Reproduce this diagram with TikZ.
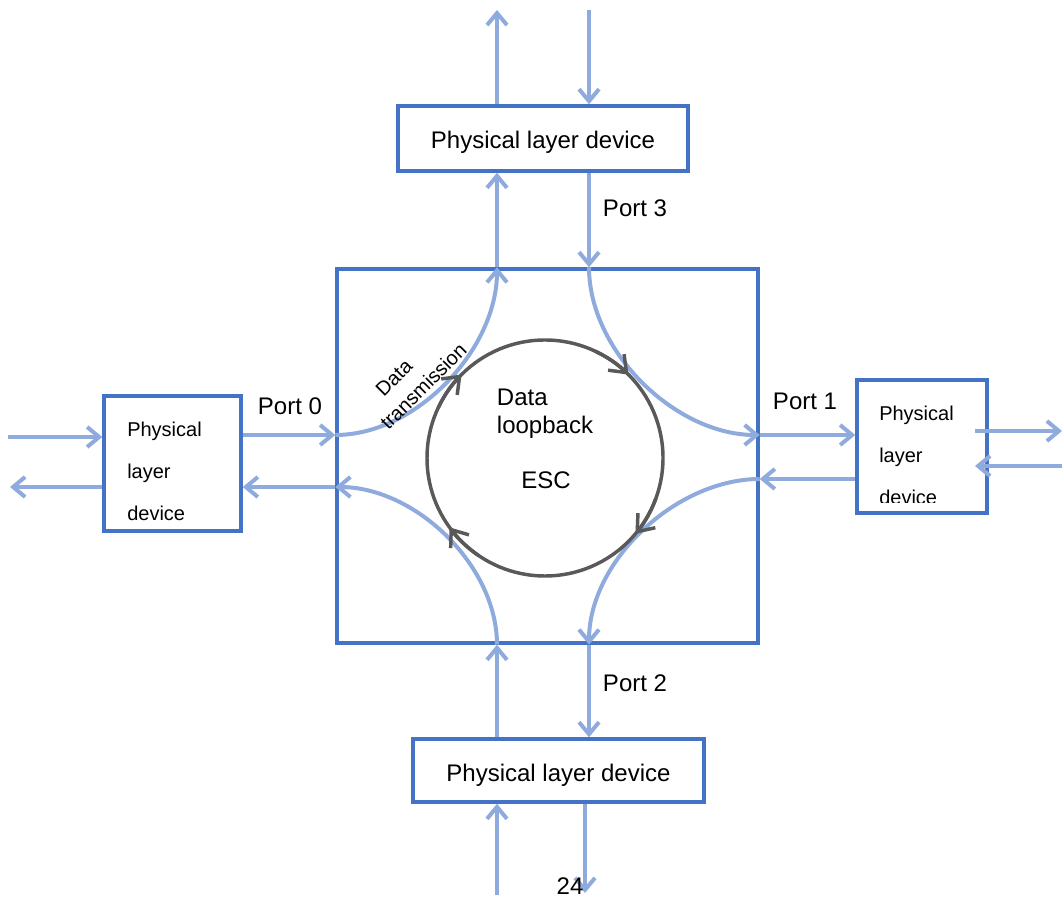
\documentclass[tikz,border=0pt]{standalone}
\usepackage{fontspec}
\setmainfont{Liberation Sans}
\usetikzlibrary{arrows.meta}
\definecolor{boxblue}{HTML}{4472C4}
\definecolor{lblue}{HTML}{8FAADC}
\definecolor{dgray}{HTML}{595959}
\begin{document}
\begin{tikzpicture}[x=0.75pt,y=0.75pt,
  dev/.style={draw=boxblue, line width=2.6pt, inner sep=0pt},
  flow/.style={draw=lblue, line width=3pt, -{Straight Barb[length=9pt,width=15pt]}},
  circarr/.style={draw=dgray, line width=2.6pt, -{Straight Barb[length=11pt,width=17pt]}},
  lbl/.style={font=\fontsize{18}{21}\selectfont, inner sep=0pt},
  small/.style={font=\fontsize{15}{31.5}\selectfont, align=left, inner sep=0pt}]
\useasboundingbox (0,0) rectangle (1062,899);

% coordinates
\coordinate (xA) at (497,0);
\coordinate (xB) at (589,0);
\coordinate (xC) at (585,0);
\coordinate (rx) at (975,0);
\coordinate (yA) at (0,464);
\coordinate (yB) at (0,412);
\coordinate (yC) at (0,420);
\coordinate (yD) at (0,468);
\coordinate (yE) at (0,433);
\coordinate (yF) at (0,462);
\coordinate (topA) at (497,889);
\coordinate (topB) at (589,889);
\coordinate (botA) at (497,4);
\coordinate (botC) at (585,6);
\coordinate (leftIn) at (8,462);
\coordinate (leftOut) at (10,412);
\coordinate (rightOut) at (1062,468);
\coordinate (rightIn) at (1062,433);

% boxes
\node[dev, minimum width=315.75pt, minimum height=280.5pt] (box) at (547.5,443) {};
\node[dev, minimum width=217.5pt, minimum height=48.75pt] (dtop) at (543,760.5) {};
\node[dev, minimum width=218.25pt, minimum height=47.25pt] (dbot) at (558.5,128.5) {};
\node[lbl] (ttop) at (543,756.5) {Physical layer device};
\node[lbl] (tbot) at (558.5,123.5) {Physical layer device};
\node[dev, minimum width=102.75pt, minimum height=101.25pt] (dleft) at (172.5,435.5) {};
\node[dev, minimum width=97.5pt, minimum height=99.75pt] (dright) at (922,452.5) {};
\node[small, anchor=west] (tleft) at (127,428) {Physical\\layer\\device};
\begin{scope}
\clip (857,396) rectangle (987,519);
\node[small, anchor=west] (tright) at (879,444) {Physical\\layer\\device};
\end{scope}

% top
\draw[flow] (dtop.north -| xA) -- (topA);
\draw[flow] (topB) -- (dtop.north -| xB);
\draw[flow] (box.north -| xA) -- (dtop.south -| xA);
\draw[flow] (dtop.south -| xB) -- (box.north -| xB);
% inner curves
\draw[flow] (box.west |- yA) to[out=0,in=-90,looseness=0.9] (box.north -| xA);
\draw[flow] (box.north -| xB) to[out=-90,in=180,looseness=0.9] (box.east |- yA);
\draw[flow] (box.east |- yC) to[out=180,in=90,looseness=0.9] (box.south -| xB);
\draw[flow] (box.south -| xA) to[out=90,in=0,looseness=0.9] (box.west |- yB);
% right
\draw[flow] (box.east |- yA) -- (dright.west |- yA);
\draw[flow] (dright.west |- yC) -- (box.east |- yC);
\draw[flow] (rx |- yD) -- (rightOut);
\draw[flow] (rightIn) -- (rx |- yE);
% bottom
\draw[flow] (box.south -| xB) -- (dbot.north -| xB);
\draw[flow] (dbot.north -| xA) -- (box.south -| xA);
\draw[flow] (botA) -- (dbot.south -| xA);
\draw[flow] (dbot.south -| xC) -- (botC);
% left
\draw[flow] (dleft.east |- yA) -- (box.west |- yA);
\draw[flow] (box.west |- yB) -- (dleft.east |- yB);
\draw[flow] (leftIn) -- (dleft.west |- yF);
\draw[flow] (dleft.west |- yB) -- (leftOut);

% ring (on top of the flows)
\node[draw=dgray, line width=2.6pt, circle, minimum size=177pt, inner sep=0pt] (ring) at (545,441) {};
\draw[circarr] (ring.center) ++(155:118) arc[start angle=155, end angle=135, radius=118];
\draw[circarr] (ring.center) ++(65:118) arc[start angle=65, end angle=45, radius=118];
\draw[circarr] (ring.center) ++(-20:118) arc[start angle=-20, end angle=-40, radius=118];
\draw[circarr] (ring.center) ++(236:118) arc[start angle=236, end angle=216, radius=118];

% labels
\node[lbl] (p0) at (290,493) {Port 0};
\node[lbl] (p1) at (805,498) {Port 1};
\node[lbl] (p3) at (635,691) {Port 3};
\node[lbl] (p2) at (635,216) {Port 2};
\node[lbl, align=left] (loop) at (545,485) {Data\\loopback};
\node[lbl] (escl) at (546,419) {ESC};
\node[lbl] (pg) at (570,13) {24};
\node[rotate=45, align=left, font=\fontsize{15}{20}\selectfont, inner sep=0pt] (dt) at (414,522) {\hspace*{15pt}Data\\transmission};
\end{tikzpicture}
\end{document}
